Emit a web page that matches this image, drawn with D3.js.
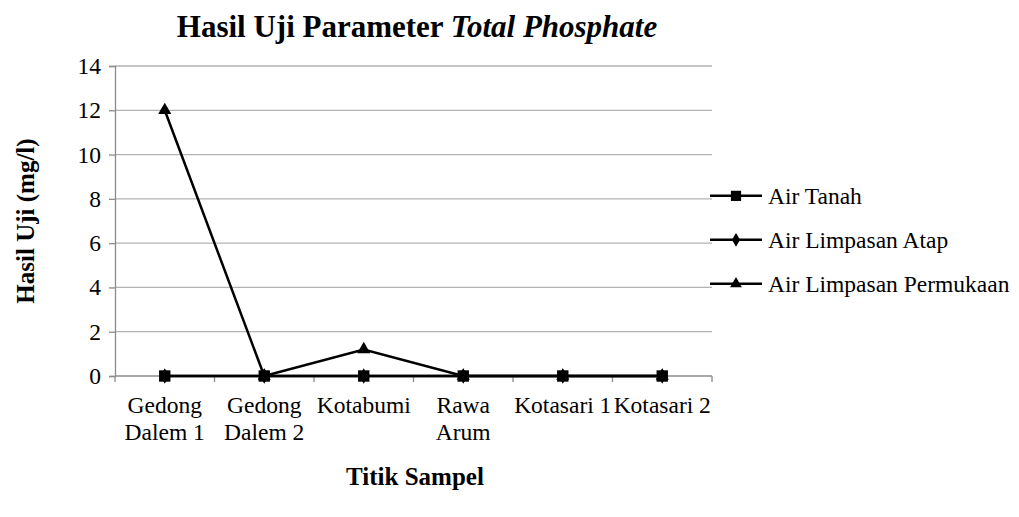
<!DOCTYPE html>
<html>
<head>
<meta charset="utf-8">
<script src="https://cdn.jsdelivr.net/npm/d3@7"></script>
<style>
  body { margin: 0; background: #fff; }
  text { font-family: "Liberation Serif", "Times New Roman", serif; fill: #000; }
</style>
</head>
<body>
<div id="chart"></div>
<script>
// Hasil Uji Parameter Total Phosphate — line chart with markers

const categories = [
  ['Gedong', 'Dalem 1'],
  ['Gedong', 'Dalem 2'],
  ['Kotabumi'],
  ['Rawa', 'Arum'],
  ['Kotasari 1'],
  ['Kotasari 2']
];
const airTanah = [0, 0, 0, 0, 0, 0];
const airLimpasanAtap = [0, 0, 0, 0, 0, 0];
const airLimpasanPermukaan = [12, 0, 1.2, 0, 0, 0];
const yTicks = [0, 2, 4, 6, 8, 10, 12, 14];

const series = [
  { name: 'Air Tanah', values: airTanah, marker: d3.symbolSquare, size: 130 },
  { name: 'Air Limpasan Atap', values: airLimpasanAtap, marker: d3.symbolDiamond, size: 70 },
  { name: 'Air Limpasan Permukaan', values: airLimpasanPermukaan, marker: d3.symbolTriangle, size: 75 }
];

const width = 1019, height = 517;
const margin = { left: 115, right: 307, top: 66, bottom: 141 };
const labelSize = 23.5;

const svg = d3.select('#chart').append('svg')
  .attr('width', width)
  .attr('height', height);

const x = d3.scaleBand()
  .domain(categories.map((d, i) => i))
  .range([margin.left, width - margin.right]);

const y = d3.scaleLinear()
  .domain([0, 14])
  .range([height - margin.bottom, margin.top]);

// Gridlines
svg.append('g')
  .selectAll('line')
  .data(yTicks.filter(t => t > 0))
  .join('line')
  .attr('x1', margin.left)
  .attr('x2', width - margin.right)
  .attr('y1', d => y(d))
  .attr('y2', d => y(d))
  .attr('stroke', '#b3b3b3')
  .attr('stroke-width', 1.3);

// Y axis
const yAxis = svg.append('g')
  .attr('transform', `translate(${margin.left},0)`)
  .call(d3.axisLeft(y).tickValues(yTicks).tickSize(6).tickPadding(8));
yAxis.select('.domain').attr('stroke', '#8c8c8c').attr('stroke-width', 1.3);
yAxis.selectAll('.tick line').attr('stroke', '#8c8c8c').attr('stroke-width', 1.3);
yAxis.selectAll('.tick text')
  .attr('font-size', labelSize)
  .attr('fill', '#000');

// X axis: ticks at band boundaries
const xBase = y(0);
const bounds = d3.range(categories.length + 1).map(i => margin.left + i * x.bandwidth());
svg.append('line')
  .attr('x1', margin.left).attr('x2', width - margin.right)
  .attr('y1', xBase).attr('y2', xBase)
  .attr('stroke', '#8c8c8c').attr('stroke-width', 1.3);
svg.append('g')
  .selectAll('line')
  .data(bounds)
  .join('line')
  .attr('x1', d => d).attr('x2', d => d)
  .attr('y1', xBase).attr('y2', xBase + 6)
  .attr('stroke', '#8c8c8c').attr('stroke-width', 1.3);

const xLabels = svg.append('g')
  .selectAll('text')
  .data(categories)
  .join('text')
  .attr('x', (d, i) => x(i) + x.bandwidth() / 2)
  .attr('y', xBase + 37)
  .attr('text-anchor', 'middle')
  .attr('font-size', labelSize);
xLabels.selectAll('tspan')
  .data(d => d)
  .join('tspan')
  .attr('x', function () { return d3.select(this.parentNode).attr('x'); })
  .attr('dy', (d, i) => i === 0 ? 0 : 27)
  .text(d => d);

// Lines and markers
const line = d3.line()
  .x((d, i) => x(i) + x.bandwidth() / 2)
  .y(d => y(d));

const drawOrder = [2, 1, 0];
drawOrder.forEach(si => {
  const s = series[si];
  svg.append('path')
    .datum(s.values)
    .attr('d', line)
    .attr('fill', 'none')
    .attr('stroke', '#000')
    .attr('stroke-width', 2.5);
});
drawOrder.forEach(si => {
  const s = series[si];
  svg.append('g')
    .selectAll('path')
    .data(s.values)
    .join('path')
    .attr('transform', (d, i) => `translate(${x(i) + x.bandwidth() / 2},${y(d)})`)
    .attr('d', d3.symbol().type(s.marker).size(s.size))
    .attr('fill', '#000');
});

// Legend
const legend = svg.append('g')
  .selectAll('g')
  .data(series)
  .join('g')
  .attr('transform', (d, i) => `translate(710,${y(8) - 3 + i * 44})`);
legend.append('line')
  .attr('x1', 0).attr('x2', 52)
  .attr('stroke', '#000').attr('stroke-width', 2.5);
legend.append('path')
  .attr('transform', 'translate(26,0)')
  .attr('d', d => d3.symbol().type(d.marker).size(d.size * 0.8)())
  .attr('fill', '#000');
legend.append('text')
  .attr('x', 58)
  .attr('y', 8)
  .attr('font-size', labelSize)
  .text(d => d.name);

// Title
const title = svg.append('text')
  .attr('x', 417)
  .attr('y', 37)
  .attr('text-anchor', 'middle')
  .attr('font-size', 31)
  .attr('font-weight', 'bold');
title.append('tspan').text('Hasil Uji Parameter ');
title.append('tspan').attr('font-style', 'italic').text('Total Phosphate');

// Axis titles
svg.append('text')
  .attr('transform', `translate(34,${(margin.top + xBase) / 2}) rotate(-90)`)
  .attr('text-anchor', 'middle')
  .attr('font-size', 25)
  .attr('font-weight', 'bold')
  .text('Hasil Uji (mg/l)');

svg.append('text')
  .attr('x', 415)
  .attr('y', 485)
  .attr('text-anchor', 'middle')
  .attr('font-size', 25)
  .attr('font-weight', 'bold')
  .text('Titik Sampel');
</script>
</body>
</html>
